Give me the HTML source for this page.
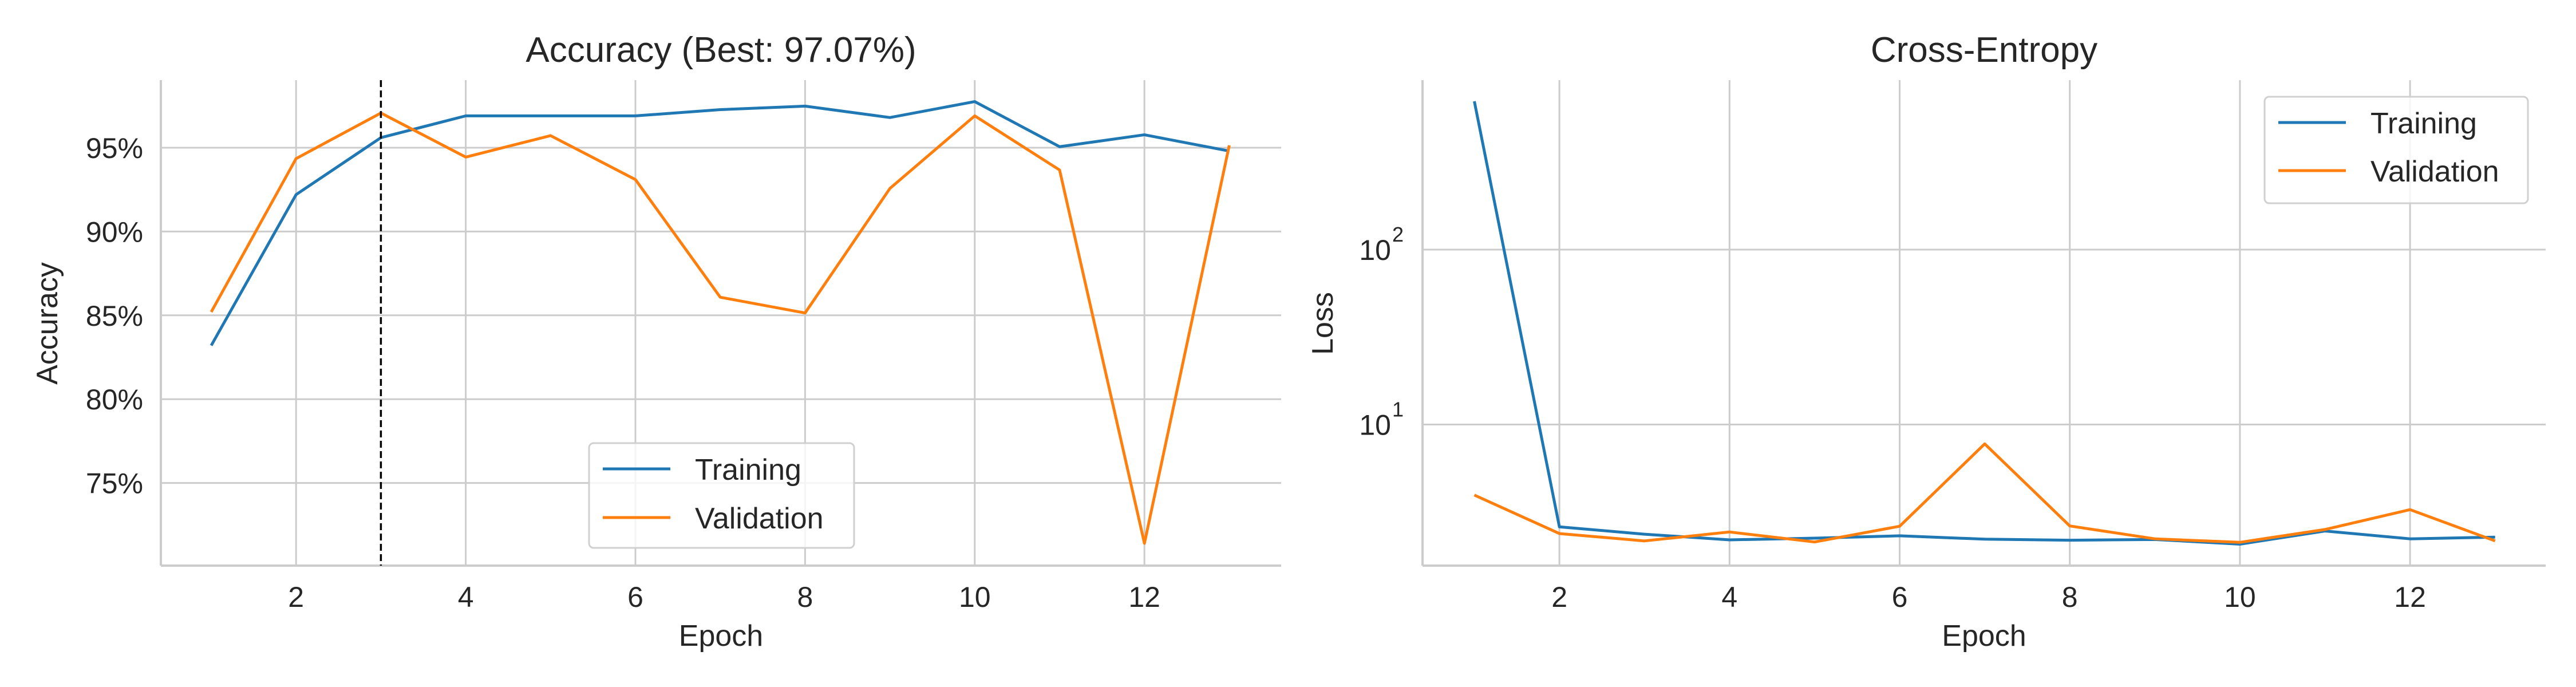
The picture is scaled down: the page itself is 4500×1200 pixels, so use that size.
<!DOCTYPE html>
<html><head><meta charset="utf-8"><style>
body{margin:0;background:#fff}
svg{display:block}
text{font-family:"Liberation Sans",sans-serif;fill:#262626}
</style></head><body>
<svg id="chart" width="4500" height="1200" viewBox="0 0 4500 1200" xmlns="http://www.w3.org/2000/svg">
<rect width="4500" height="1200" fill="#fff"/>
<g id="acc"></g>
<g id="loss"></g>
</svg>
<script>
const epochs=[1,2,3,4,5,6,7,8,9,10,11,12,13];
const accTrain=[83.2,92.2,95.6,96.9,96.9,96.9,97.27,97.48,96.8,97.75,95.06,95.77,94.8];
const accVal=[85.2,94.35,97.07,94.44,95.72,93.1,86.08,85.14,92.57,96.9,93.67,71.4,95.14];
const lossTrain=[705,2.6,2.36,2.19,2.24,2.31,2.21,2.18,2.2,2.07,2.46,2.22,2.27];
const lossVal=[3.95,2.38,2.16,2.43,2.13,2.62,7.75,2.63,2.22,2.12,2.51,3.26,2.16];
const xTicks=[2,4,6,8,10,12];
const accTicks=[75,80,85,90,95];
const lossTicks=[1,2];
const bestEpoch=3;
const NS='http://www.w3.org/2000/svg';
function mk(p,t,a){const e=document.createElementNS(NS,t);for(const k in a)e.setAttribute(k,a[k]);p.appendChild(e);return e;}
const blue='#1f77b4',orange='#ff7f0e',grid='#cccccc';
function panel(g,L,R,xScale,yScale,yTicks,yLab,fmtTick,title,ylabel,ylx,series,legend){
  const T=140,B=988;
  xTicks.forEach(v=>{const x=xScale(v);
    const l=mk(g,'line',{x1:x,x2:x,y1:T,y2:B,stroke:grid,'stroke-width':3});
    
    const t=mk(g,'text',{x:x,y:1060,'font-size':50,'text-anchor':'middle'});t.textContent=v;
    });
  yTicks.forEach(v=>{const y=yScale(v);
    const l=mk(g,'line',{x1:L,x2:R,y1:y,y2:y,stroke:grid,'stroke-width':3});
    
    fmtTick(g,v,y);});
  const s1=mk(g,'line',{x1:L,x2:L,y1:T,y2:B,stroke:grid,'stroke-width':4});
  
  const s2=mk(g,'line',{x1:L,x2:R,y1:B,y2:B,stroke:grid,'stroke-width':4});
  
  const tt=mk(g,'text',{x:(L+R)/2,y:108,'font-size':62,'text-anchor':'middle'});tt.textContent=title;
  
  const xl=mk(g,'text',{x:(L+R)/2,y:1128,'font-size':52,'text-anchor':'middle'});xl.textContent='Epoch';
  
  const yl=mk(g,'text',{x:ylx,y:565,'font-size':52,'text-anchor':'middle',transform:`rotate(-90 ${ylx} 565)`});yl.textContent=ylabel;
  
  return T;
}
function drawSeries(g,xs,vals,xScale,yScale,color,name){
  const pts=vals.map((v,i)=>xScale(xs[i])+','+yScale(v)).join(' ');
  const p=mk(g,'polyline',{points:pts,fill:'none',stroke:color,'stroke-width':5,'stroke-linejoin':'round'});
  
}
function drawLegend(g,x0,y0,x1,y1,rows){
  const r=mk(g,'rect',{x:x0,y:y0,width:x1-x0,height:y1-y0,rx:8,fill:'#fff','fill-opacity':0.8,stroke:'#d0d0d0','stroke-width':3});
  
  rows.forEach(([lab,col,y])=>{
    const l=mk(g,'line',{x1:x0+24,x2:x0+142,y1:y,y2:y,stroke:col,'stroke-width':5});
    
    const t=mk(g,'text',{x:x0+185,y:y+19,'font-size':52});t.textContent=lab;
    });
}
// Accuracy
{
 const g=document.getElementById('acc');const L=281,R=2238;
 const xS=v=>369+(v-1)*148.2; const yS=v=>258+(95-v)*29.28;
 panel(g,L,R,xS,yS,accTicks,null,(g,v,y)=>{const t=mk(g,'text',{x:250,y:y+18,'font-size':50,'text-anchor':'end'});t.textContent=v+'%';
   },
  'Accuracy (Best: 97.07%)','Accuracy',100);
 drawSeries(g,epochs,accTrain,xS,yS,blue,'training-accuracy-line');
 drawSeries(g,epochs,accVal,xS,yS,orange,'validation-accuracy-line');
 const d=mk(g,'line',{x1:xS(bestEpoch),x2:xS(bestEpoch),y1:140,y2:988,stroke:'#000','stroke-width':3.5,'stroke-dasharray':'12,6'});
 
 drawLegend(g,1029,774,1492,957,[['Training',blue,819],['Validation',orange,904]]);
}
// Loss
{
 const g=document.getElementById('loss');const L=2485,R=4447;
 const xS=v=>2575.5+(v-1)*148.6; const yS=v=>741.5-(Math.log10(v)-1)*305.5;
 panel(g,L,R,xS,v=>741.5-(v-1)*305.5,lossTicks,null,(g,v,y)=>{const t=mk(g,'text',{x:2430,y:y+18,'font-size':50,'text-anchor':'end'});t.textContent='10';
   
   const s=mk(g,'text',{x:2432,y:y-14,'font-size':36});s.textContent=v;
   },
  'Cross-Entropy','Loss',2328);
 drawSeries(g,epochs,lossTrain,xS,yS,blue,'training-loss-line');
 drawSeries(g,epochs,lossVal,xS,yS,orange,'validation-loss-line');
 drawLegend(g,3956,169,4416,355,[['Training',blue,214],['Validation',orange,298]]);
}
</script>
</body></html>
